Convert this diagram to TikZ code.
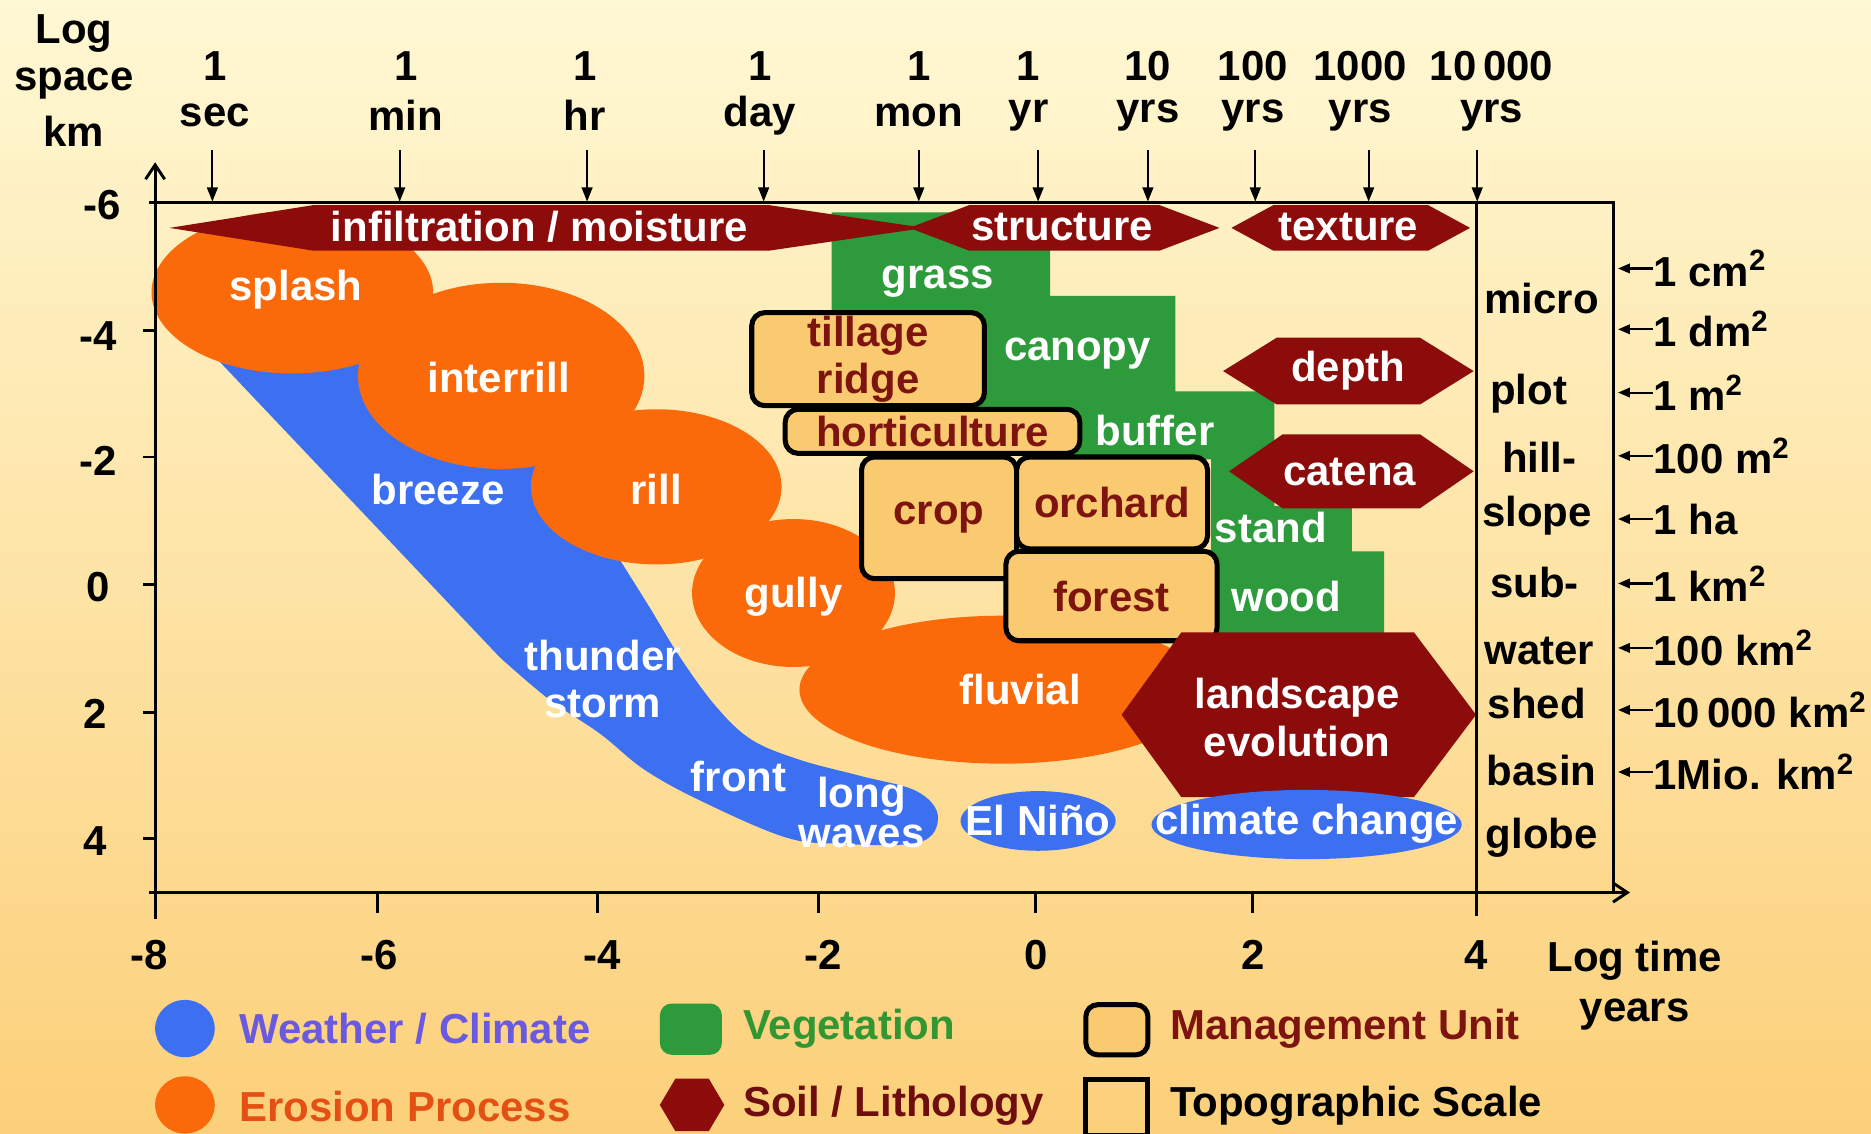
\documentclass[tikz,border=0pt]{standalone}
\usepackage{fontspec}
\setmainfont{Liberation Sans}
\usetikzlibrary{arrows.meta}
\definecolor{soil}{RGB}{140,12,12}
\definecolor{eros}{RGB}{250,105,10}
\definecolor{wblue}{RGB}{60,112,240}
\definecolor{veg}{RGB}{45,155,60}
\definecolor{mgmt}{RGB}{250,202,112}
\definecolor{mtext}{RGB}{125,20,15}
\definecolor{legblue}{RGB}{105,90,225}
\definecolor{legveg}{RGB}{50,150,50}
\definecolor{legeros}{RGB}{228,80,20}
\definecolor{legsoil}{RGB}{110,14,14}
\definecolor{bgtop}{RGB}{255,248,212}
\definecolor{bgmid}{RGB}{254,234,172}
\definecolor{bgbot}{RGB}{252,208,122}
\newcommand{\soilhex}[6]{%
  \fill[soil] (#1,#3) -- ({#1+#5},{#3-#4}) -- ({#2-#6},{#3-#4}) -- (#2,#3)
     -- ({#2-#6},{#3+#4}) -- ({#1+#5},{#3+#4}) -- cycle;}
\begin{document}
\begin{tikzpicture}[x=0.1mm,y=-0.1mm,
  lbl/.style={font=\fontsize{10}{11.4}\selectfont\bfseries, inner sep=0pt, align=center},
  wlbl/.style={lbl,text=white},
  mlbl/.style={lbl,text=mtext},
  llbl/.style={lbl,anchor=west},
  mbox/.style={lbl,text=mtext,draw=black,fill=mgmt,line width=1.2pt,rounded corners=1.1mm},
  axis/.style={line width=0.7pt},
  tarrow/.style={line width=0.5pt,-{Triangle[length=1.2mm,width=0.9mm]}},
  rarrow/.style={line width=0.5pt,-{Triangle[length=1mm,width=0.8mm]}}]
\useasboundingbox (0,0) rectangle (1568,950);
\shade[top color=bgtop, middle color=bgmid, bottom color=bgbot] (0,0) rectangle (1568,950);

% weather / climate band
\fill[wblue] (183,302) -- (320,300) -- (470,400) -- plot[smooth, tension=0.6] coordinates {(520,470) (545,510) (570,551) (600,592) (630,620) (671,637) (720,650) (768,663) (786,684) (770,706) (700,707) (656,701) (587,671) (540,645) (503,615) (460,586) (419,551)} -- cycle;

% erosion blobs
\fill[eros] (245,245) ellipse [x radius=118, y radius=68];
\fill[eros] (420,315) ellipse [x radius=120, y radius=78];
\fill[eros] (550,408) ellipse [x radius=105, y radius=65];
\fill[eros] (665,497) ellipse [x radius=85, y radius=62];
\fill[eros] (840,578) ellipse [x radius=170, y radius=62];

% vegetation staircase
\fill[veg] (697,178) -- (880,178) -- (880,248) -- (985,248) -- (985,328) -- (1068,328)
  -- (1068,424) -- (1133,424) -- (1133,462) -- (1160,462) -- (1160,531) -- (1015,531)
  -- (1015,385) -- (860,385) -- (860,342) -- (760,342) -- (760,262) -- (697,262) -- cycle;

% soil / lithology shapes
\soilhex{142}{775}{191}{19}{120}{130}
\soilhex{762}{1022}{191}{19}{50}{50}
\soilhex{1032}{1232}{191}{19}{35}{35}
\soilhex{1025}{1235}{311}{28}{45}{45}
\soilhex{1030}{1235}{395}{31}{45}{45}

% management units
\node[mbox, minimum width=19.5mm, minimum height=7.8mm] (tillage) at (727.5,301) {tillage\\ridge};
\node[mbox, minimum width=24.7mm, minimum height=3.7mm] (horti) at (781.5,361.5) {horticulture};
\node[mbox, minimum width=13mm, minimum height=10.2mm] (crop) at (787,434) {crop};
\node[mbox, minimum width=16mm, minimum height=7.7mm] (orchard) at (932,421.5) {orchard};
\node[mbox, minimum width=17.7mm, minimum height=7.5mm] (forest) at (931.5,499.5) {forest};

\soilhex{940}{1237}{599}{69}{50}{52}

% climate ellipses
\fill[wblue] (870,688) ellipse [x radius=65, y radius=25];
\fill[wblue] (1095,691) ellipse [x radius=130, y radius=29];

% labels inside shapes
\node[wlbl] (infil) at (452,190) {infiltration / moisture};
\node[wlbl] (struct) at (890,190) {structure};
\node[wlbl] (textu) at (1130,190) {texture};
\node[wlbl] (depth) at (1130,311) {depth};
\node[wlbl] (catena) at (1131,396) {catena};
\node[wlbl] (splash) at (248,243) {splash};
\node[wlbl] (interrill) at (418,316) {interrill};
\node[wlbl] (rill) at (550,410) {rill};
\node[wlbl] (gully) at (665,500) {gully};
\node[wlbl] (fluvial) at (855,578) {fluvial};
\node[wlbl] (breeze) at (367,410) {breeze};
\node[wlbl] (thunder) at (505,569) {thunder\\storm};
\node[wlbl] (front) at (619,651) {front};
\node[wlbl,font=\fontsize{10}{9.5}\selectfont\bfseries] (longw) at (722,681) {long\\waves};
\node[wlbl] (nino) at (870,688) {El Niño};
\node[wlbl] (climch) at (1095,690) {climate change};
\node[wlbl] (landsc) at (1087,601) {landscape\\evolution};
\node[wlbl] (grass) at (786,236) {grass};
\node[wlbl] (canopy) at (903,296) {canopy};
\node[wlbl] (buffer) at (968,361) {buffer};
\node[wlbl] (stand) at (1065,442) {stand};
\node[wlbl] (wood) at (1078,500) {wood};

% axes and frame
\draw[axis] (125,170) -- (1352,170) -- (1352,748);
\draw[axis] (1237,170) -- (1237,768);
\draw[axis,-{Straight Barb[length=1.2mm,width=1.6mm]}] (125,748) -- (1366,748);
\draw[axis,-{Straight Barb[length=1.2mm,width=1.6mm]}] (130,770) -- (130,136);
\foreach \yy in {277,383,490,597,703} \draw[axis] (120,\yy) -- (130,\yy);
\foreach \xx in {316,501,686,868,1050} \draw[axis] (\xx,748) -- (\xx,765);

% y axis title and tick labels
\node[lbl] (lsp1) at (62,28) {Log};
\node[lbl] (lsp2) at (62,70) {space};
\node[lbl] (lsp3) at (62,110) {km};
\node[lbl] (ym6) at (86,172) {-6};
\node[lbl] (ym4) at (82,282) {-4};
\node[lbl] (ym2) at (82,386) {-2};
\node[lbl] (y0) at (82,492) {0};
\node[lbl] (y2) at (80,598) {2};
\node[lbl] (y4) at (80,705) {4};

% x tick labels
\node[lbl] (xm8) at (125,800) {-8};
\node[lbl] (xm6) at (318,800) {-6};
\node[lbl] (xm4) at (505,800) {-4};
\node[lbl] (xm2) at (690,800) {-2};
\node[lbl] (x0) at (868,800) {0};
\node[lbl] (x2) at (1050,800) {2};
\node[lbl] (x4) at (1237,800) {4};
\node[lbl] (ltime1) at (1370,805) {Log time};
\node[lbl] (ltime2) at (1370,850) {years};

% top time labels and arrows
\foreach \xl/\xa/\ta/\tb [count=\i] in {180/178/1/sec, 340/335/1/min, 490/492/1/hr, 637/640/1/day, 770/770/1/mon, 862/870/1/yr, 962/962/10/yrs, 1050/1052/100/yrs, 1140/1147/1000/yrs, 1250/1238/10\,000/yrs}{
  \node[lbl] (tt\i) at (\xl,55) {\ta};
  \node[lbl] (tu\i) at (\xl,97) {\tb};
  \coordinate (ta\i) at (\xa,126);
  \coordinate (tb\i) at (\xa,169);
  \draw[tarrow] (ta\i) -- (tb\i);
}

% topographic scale names
\node[lbl] (micro) at (1292,250) {micro};
\node[lbl] (plot) at (1281,330) {plot};
\node[lbl] (hill) at (1290,383) {hill-};
\node[lbl] (slope) at (1288,432) {slope};
\node[lbl] (sub) at (1286,488) {sub-};
\node[lbl] (water) at (1290,546) {water};
\node[lbl] (shed) at (1288,590) {shed};
\node[lbl] (basin) at (1292,646) {basin};
\node[lbl] (globe) at (1292,702) {globe};

% area scale with arrows
\foreach \yy/\tx [count=\i] in {225/1 cm\textsuperscript{2}, 276/1 dm\textsuperscript{2}, 329/1 m\textsuperscript{2}, 382/100 m\textsuperscript{2}, 435/1 ha, 489/1 km\textsuperscript{2}, 543/100 km\textsuperscript{2}, 595/10\,000 km\textsuperscript{2}, 647/1Mio. km\textsuperscript{2}}{
  \node[llbl] (ar\i) at (1385,\yy) {\tx};
  \coordinate (as\i) at (1356,\yy);
  \draw[rarrow] (ar\i.west) -- (as\i);
}

% legend
\fill[wblue] (155,862) ellipse [x radius=25, y radius=24];
\node[llbl,text=legblue] (lg1) at (200,862) {Weather / Climate};
\fill[veg, rounded corners=1mm] (553,841) rectangle (605,884);
\node[llbl,text=legveg] (lg2) at (622,862) {Vegetation};
\draw[fill=mgmt, line width=1.2pt, rounded corners=1mm] (910,842) rectangle (962,884);
\node[llbl,text=mtext] (lg3) at (980,862) {Management Unit};
\fill[eros] (155,926) ellipse [x radius=25, y radius=24];
\node[llbl,text=legeros] (lg4) at (200,927) {Erosion Process};
\fill[soil] (553,926) -- (566,904) -- (594,904) -- (607,926) -- (594,948) -- (566,948) -- cycle;
\node[llbl,text=legsoil] (lg5) at (622,927) {Soil / Lithology};
\draw[line width=1.2pt] (910,905) rectangle (962,952);
\node[llbl] (lg6) at (980,927) {Topographic Scale};
\end{tikzpicture}
\end{document}
